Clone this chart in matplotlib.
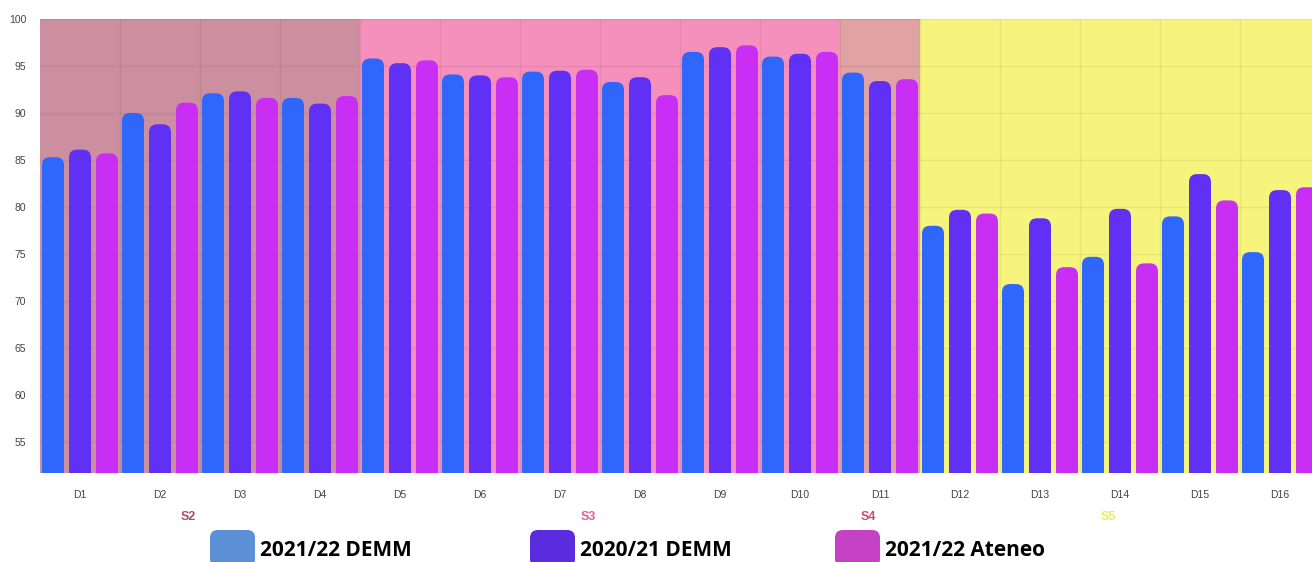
import matplotlib.pyplot as plt
from matplotlib.patches import FancyBboxPatch
import numpy as np

categories = ['D1', 'D2', 'D3', 'D4', 'D5', 'D6', 'D7', 'D8',
              'D9', 'D10', 'D11', 'D12', 'D13', 'D14', 'D15', 'D16']
demm_2122 = [85.3, 90.0, 92.1, 91.6, 95.8, 94.1, 94.4, 93.3,
             96.5, 96.0, 94.3, 78.0, 71.8, 74.7, 79.0, 75.2]
demm_2021 = [86.1, 88.8, 92.3, 91.0, 95.3, 94.0, 94.5, 93.8,
             97.0, 96.3, 93.4, 79.7, 78.8, 79.8, 83.5, 81.8]
ateneo_2122 = [85.7, 91.1, 91.6, 91.8, 95.6, 93.8, 94.6, 91.9,
               97.2, 96.5, 93.6, 79.3, 73.6, 74.0, 80.7, 82.1]
series_names = ['2021/22 DEMM', '2020/21 DEMM', '2021/22 Ateneo']

# sections: (label, first group index, last group index + 1)
sections = [('S2', 0, 4), ('S3', 4, 10), ('S4', 10, 11), ('S5', 11, 16)]
section_bg = ['#cc8fa0', '#f490bb', '#e0a2a2', '#f7f47e']
section_fg = ['#a8506a', '#e0609a', '#c85068', '#ecec5a']

bar_colors = ['#2f66fb', '#6130f5', '#c92ef5']
legend_colors = ['#5b8fd6', '#5b2be0', '#c542c4']

W, H = 1312, 562
fig = plt.figure(figsize=(W / 100, H / 100), dpi=100)
ax = fig.add_axes([40 / W, 89 / H, 1280 / W, 454 / H])

n = len(categories)
x = np.arange(n)
ax.set_xlim(0, n)
ax.set_ylim(51.7, 100)

# section backgrounds
for (lab, a, b), c in zip(sections, section_bg):
    ax.axvspan(a, b, color=c, zorder=0, lw=0)

# grid
for v in range(55, 101, 5):
    ax.axhline(v, color='black', alpha=0.06, lw=1, zorder=1)
for i in range(1, n):
    ax.axvline(i, color='black', alpha=0.06, lw=1, zorder=1)

# bars with rounded tops
bw = 0.275
step = 0.3375
px_x = 1 / 80.0
px_y = (100 - 51.7) / 454.0
r = 8 * px_x
for k, (vals, col) in enumerate(zip([demm_2122, demm_2021, ateneo_2122], bar_colors)):
    bars = ax.bar(x + 0.5 + (k - 1) * step, vals, width=bw, color=col, zorder=2)
    for b in bars:
        b.set_visible(False)
        p = FancyBboxPatch((b.get_x(), 0), b.get_width(), b.get_height(),
                           boxstyle=f'round,pad=0,rounding_size={r}',
                           mutation_aspect=px_y / px_x,
                           facecolor=col, edgecolor='none', zorder=2)
        ax.add_patch(p)

for s in ax.spines.values():
    s.set_visible(False)

ax.set_xticks(x + 0.5)
ax.set_xticklabels(categories, fontsize=7.5, color='#444444', family='Liberation Sans')
ax.tick_params(axis='x', length=0, pad=12)
ax.set_yticks(range(55, 101, 5))
ax.set_yticklabels([str(v) for v in range(55, 101, 5)], fontsize=7.5,
                   color='#444444', family='Liberation Sans')
ax.tick_params(axis='y', length=0, pad=10)

# section labels
for (lab, a, b), c in zip(sections, section_fg):
    ax.text((a + b) / 2 - 0.15, 51.7 - 44 * px_y, lab, ha='center', va='center',
            fontsize=9, fontweight='bold', color=c, family='Liberation Sans')

# legend
leg_x = [210, 530, 835]
for lx, c, name in zip(leg_x, legend_colors, series_names):
    fig.add_artist(FancyBboxPatch((lx / W, -5 / H), 45 / W, 37 / H,
                                  boxstyle='round,pad=0,rounding_size=0.006',
                                  transform=fig.transFigure, facecolor=c,
                                  edgecolor='none', mutation_aspect=W / H))
    fig.text((lx + 50) / W, 11 / H, name, fontsize=15, fontweight='bold',
             color='black', va='center', ha='left', family='Open Sans')

fig.savefig('out.png', dpi=100)
